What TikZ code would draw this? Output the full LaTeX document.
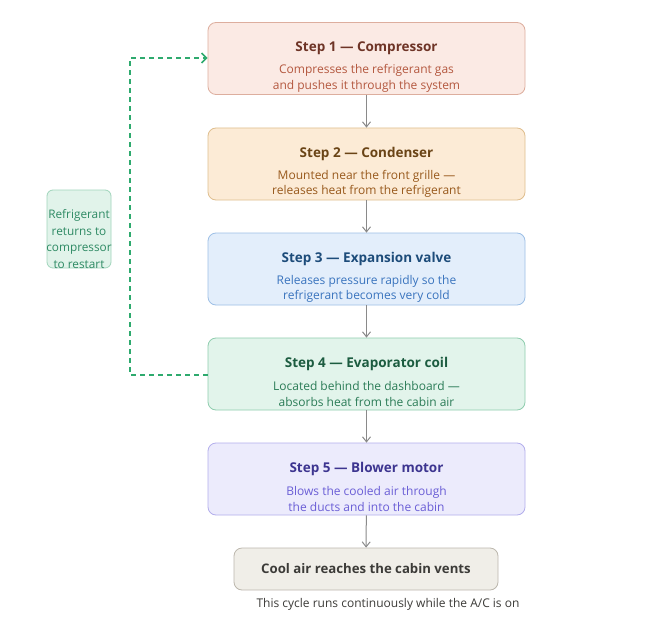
\documentclass[tikz,border=0pt]{standalone}
\usepackage{fontspec}
\setmainfont{Open Sans}
\usetikzlibrary{arrows.meta}
\definecolor{aF}{HTML}{FBEAE4}\definecolor{aD}{HTML}{DDAE9E}\definecolor{aT}{HTML}{6E3426}\definecolor{aB}{HTML}{B4583F}
\definecolor{bF}{HTML}{FCEBD6}\definecolor{bD}{HTML}{DFBE8E}\definecolor{bT}{HTML}{6A4416}\definecolor{bB}{HTML}{98591C}
\definecolor{cF}{HTML}{E3EEFB}\definecolor{cD}{HTML}{9DBFE6}\definecolor{cT}{HTML}{1D4C7A}\definecolor{cB}{HTML}{3A74BE}
\definecolor{dF}{HTML}{E2F4EB}\definecolor{dD}{HTML}{8FCDAE}\definecolor{dT}{HTML}{1C5C40}\definecolor{dB}{HTML}{2B7C57}
\definecolor{eF}{HTML}{ECEBFC}\definecolor{eD}{HTML}{B3AEEC}\definecolor{eT}{HTML}{3D3590}\definecolor{eB}{HTML}{6A5ED6}
\definecolor{fF}{HTML}{F0EEE8}\definecolor{fD}{HTML}{BCB7AD}\definecolor{fT}{HTML}{3C3B38}
\definecolor{nF}{HTML}{E1F3EA}\definecolor{nD}{HTML}{A0D5BB}\definecolor{nT}{HTML}{2E8A64}
\definecolor{gl}{HTML}{2EAA6E}\definecolor{ar}{HTML}{8A8A8A}
\tikzset{
  stepbox/.style={draw, line width=0.8pt, rounded corners=8pt, minimum width=317pt, minimum height=72pt, inner sep=0pt},
  flow/.style={draw=ar, line width=1pt, -{Straight Barb[length=5pt,width=8pt]}},
  ttl/.style={font=\fontsize{13.5}{15}\selectfont\bfseries, inner sep=0pt},
  bdy/.style={font=\fontsize{12}{15.5}\selectfont, align=center, inner sep=0pt}
}
\begin{document}
\begin{tikzpicture}[x=1pt,y=-1pt]
\fill[white] (0,0) rectangle (660,631);
\useasboundingbox (0,0) rectangle (660,631);
\node[stepbox, fill=aF, draw=aD] (s1) at (366.5,58.5) {};
\node[ttl, text=aT] (s1t) at (366.5,48) {Step 1 — Compressor};
\node[bdy, text=aB] (s1b) at (366.5,78.5) {Compresses the refrigerant gas\\and pushes it through the system};
\node[stepbox, fill=bF, draw=bD] (s2) at (366.5,164) {};
\node[ttl, text=bT] (s2t) at (366.5,153.5) {Step 2 — Condenser};
\node[bdy, text=bB] (s2b) at (366.5,184) {Mounted near the front grille —\\releases heat from the refrigerant};
\node[stepbox, fill=cF, draw=cD] (s3) at (366.5,269) {};
\node[ttl, text=cT] (s3t) at (366.5,258.5) {Step 3 — Expansion valve};
\node[bdy, text=cB] (s3b) at (366.5,289) {Releases pressure rapidly so the\\refrigerant becomes very cold};
\node[stepbox, fill=dF, draw=dD] (s4) at (366.5,374) {};
\node[ttl, text=dT] (s4t) at (366.5,363.5) {Step 4 — Evaporator coil};
\node[bdy, text=dB] (s4b) at (366.5,394) {Located behind the dashboard —\\absorbs heat from the cabin air};
\node[stepbox, fill=eF, draw=eD] (s5) at (366.5,479) {};
\node[ttl, text=eT] (s5t) at (366.5,468.5) {Step 5 — Blower motor};
\node[bdy, text=eB] (s5b) at (366.5,499) {Blows the cooled air through\\the ducts and into the cabin};
\node[draw=fD, fill=fF, line width=0.8pt, rounded corners=8pt, minimum width=264pt, minimum height=42pt, text=fT, font=\fontsize{13.2}{15}\selectfont\bfseries] (fin) at (366,569) {Cool air reaches the cabin vents};
\node[text=fT, font=\fontsize{12}{13}\selectfont] (foot) at (388,604.5) {This cycle runs continuously while the A/C is on};
\node[draw=nD, fill=nF, line width=0.8pt, rounded corners=6pt, minimum width=64pt, minimum height=78pt] (note) at (79,229) {};
\node[text=nT, align=center, inner sep=0pt, font=\fontsize{11.8}{16.5}\selectfont] (notet) at (79,239) {Refrigerant\\returns to\\compressor\\to restart};
\draw[flow] (s1) -- (s2);
\draw[flow] (s2) -- (s3);
\draw[flow] (s3) -- (s4);
\draw[flow] (s4) -- (s5);
\draw[flow] (s5) -- (fin);
\coordinate (cb) at (130,375);
\coordinate (ct) at (130,58);
\draw[gl, line width=1.5pt, dash pattern=on 5pt off 4pt, -{Straight Barb[length=5pt,width=10pt]}] (s4.west |- cb) -- (cb) -- (ct) -- (s1.west |- ct);
\end{tikzpicture}
\end{document}
